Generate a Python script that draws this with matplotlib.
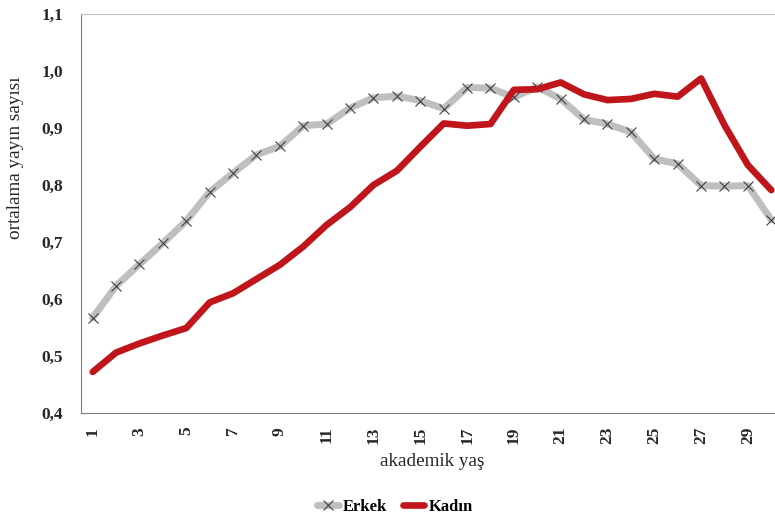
import matplotlib
matplotlib.use('Agg')
import matplotlib.pyplot as plt

# akademik yaş ve ortalama yayın sayısı
yas = list(range(1, 31))
erkek = [0.567, 0.623, 0.661, 0.698, 0.737, 0.788, 0.821, 0.853, 0.868, 0.904,
         0.907, 0.935, 0.953, 0.956, 0.948, 0.934, 0.971, 0.970, 0.954, 0.972,
         0.951, 0.915, 0.907, 0.893, 0.846, 0.837, 0.799, 0.798, 0.799, 0.739]
kadin = [0.472, 0.506, 0.522, 0.536, 0.549, 0.594, 0.610, 0.635, 0.660, 0.692,
         0.730, 0.761, 0.800, 0.825, 0.867, 0.908, 0.904, 0.907, 0.967, 0.968,
         0.980, 0.959, 0.949, 0.951, 0.960, 0.955, 0.987, 0.905, 0.835, 0.791]
y_ticks = [0.4, 0.5, 0.6, 0.7, 0.8, 0.9, 1.0, 1.1]
y_tick_labels = ['0,4', '0,5', '0,6', '0,7', '0,8', '0,9', '1,0', '1,1']
x_ticks = list(range(1, 31, 2))

plt.rcParams['font.family'] = ['Liberation Serif', 'DejaVu Serif']

fig = plt.figure(figsize = (7.75, 5.17), dpi = 100)
ax = fig.add_axes([0.1045, 0.2012, 0.9058, 0.7717])

ax.plot(yas, erkek, color = '#BFBFBF', linewidth = 5.0, marker = 'x',
        markersize = 7, markeredgecolor = '#404040', markeredgewidth = 0.8,
        label = 'Erkek', solid_capstyle = 'round', zorder = 2)
ax.plot(yas, kadin, color = '#C0161B', linewidth = 4.8,
        label = 'Kadın', solid_capstyle = 'round', zorder = 3)

ax.set_xlim(0.5, 30.5)
ax.set_ylim(0.4, 1.1)
ax.set_yticks(y_ticks)
ax.set_yticklabels(y_tick_labels, fontsize = 12.5, fontweight = 'bold', color = '#262626')
ax.set_xticks(x_ticks)
ax.set_xticklabels([str(x) for x in x_ticks], rotation = 90, fontsize = 12.5,
                   fontweight = 'bold', color = '#262626')
ax.tick_params(axis = 'both', length = 0)
ax.tick_params(axis = 'y', pad = 13)
ax.tick_params(axis = 'x', pad = 10)

ax.spines['right'].set_visible(False)
ax.spines['top'].set_color('#BFBFBF')
ax.spines['left'].set_color('#808080')
ax.spines['bottom'].set_color('#808080')

ax.set_xlabel('akademik yaş', fontsize = 13.8, color = '#262626')
ax.xaxis.set_label_coords(0.5, -40 / 399)
ax.set_ylabel('ortalama yayın sayısı', fontsize = 13.8, color = '#262626')
ax.yaxis.set_label_coords(-0.081, 0.64)

fig.legend(loc = 'center', bbox_to_anchor = (395 / 775, 0.019), ncol = 2,
           frameon = False, handlelength = 1.3, handletextpad = 0.25,
           columnspacing = 0.9, prop = {'weight': 'bold', 'size': 12})

fig.savefig('out.png', dpi = 100)
